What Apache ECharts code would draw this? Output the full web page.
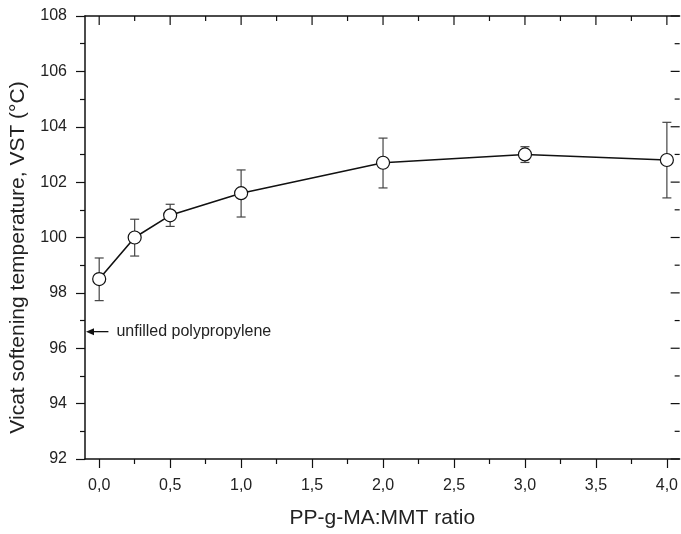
<!DOCTYPE html>
<html>
  <head>
    <title></title>
    <meta charset="UTF-8" />
    <script src="https://cdn.jsdelivr.net/npm/echarts@6/dist/echarts.min.js"></script>
    <style>
      html, body { margin: 0; padding: 0; background: #fff; }
    </style>
  </head>
  <body>
    <div id="main"></div>
    <script>
      const width = 681;
      const height = 534;
      const main = document.getElementById('main');
      main.style.width = `${width}px`;
      main.style.height = `${height}px`;

      // PP-g-MA:MMT ratio
      const ratio = [0, 0.25, 0.5, 1, 2, 3, 4];
      // Vicat softening temperature (°C)
      const vst = [98.5, 100.0, 100.8, 101.6, 102.7, 103.0, 102.8];
      const vstLow = [97.72, 99.33, 100.4, 100.74, 101.79, 102.71, 101.43];
      const vstHigh = [99.26, 100.66, 101.2, 102.44, 103.59, 103.28, 104.16];

      const xMajor = [0, 0.5, 1, 1.5, 2, 2.5, 3, 3.5, 4];
      const xMinor = [0.25, 0.75, 1.25, 1.75, 2.25, 2.75, 3.25, 3.75];
      const yMajor = [92, 94, 96, 98, 100, 102, 104, 106, 108];
      const yMinor = [93, 95, 97, 99, 101, 103, 105, 107];

      // reference level for the unfilled polymer
      const ppLevel = 96.6;
      const ppLabel = 'unfilled polypropylene';
      const arrowFrom = 0.065;

      const xMin = -0.1, xMax = 4.09, yMin = 92, yMax = 108;

      const font = "'Liberation Sans', Arial, sans-serif";
      const ink = '#111';

      const myChart = echarts.init(main);

      const xBase = {
        type: 'value',
        min: xMin,
        max: xMax,
        splitLine: { show: false },
        axisLine: { show: false, onZero: false },
        axisLabel: { show: false },
        axisTick: { show: false }
      };

      // ticks of the top and right frame: [x, y, kind] kind 0 top major, 1 top minor, 2 right major, 3 right minor
      const frameTicks = [
        ...xMajor.map(v => [v, yMax, 0]),
        ...xMinor.map(v => [v, yMax, 1]),
        ...yMajor.map(v => [xMax, v, 2]),
        ...yMinor.map(v => [xMax, v, 3])
      ];

      const option = {
        animation: false,
        textStyle: { fontFamily: font },
        grid: { left: 85, right: 0, top: 16, bottom: 74 },
        xAxis: [
          {
            ...xBase,
            position: 'bottom',
            name: 'PP-g-MA:MMT ratio',
            nameLocation: 'middle',
            nameGap: 49,
            nameTextStyle: { fontSize: 21, color: '#222', fontFamily: font },
            axisLine: { show: true, onZero: false, lineStyle: { color: ink, width: 1.5 } },
            axisTick: { show: true, length: 9, customValues: xMajor, lineStyle: { color: ink, width: 1.2 } },
            axisLabel: {
              show: true,
              customValues: xMajor,
              margin: 19,
              fontSize: 16,
              color: '#222',
              fontFamily: font,
              formatter: v => v.toFixed(1).replace('.', ',')
            }
          },
          {
            ...xBase,
            position: 'bottom',
            axisTick: { show: true, length: 5, customValues: xMinor, lineStyle: { color: ink, width: 1.2 } }
          },
          {
            ...xBase,
            position: 'top',
            axisLine: { show: true, onZero: false, lineStyle: { color: ink, width: 1.5 } }
          }
        ],
        yAxis: [
          {
            type: 'value',
            position: 'left',
            min: yMin,
            max: yMax,
            interval: 2,
            splitLine: { show: false },
            axisLine: { show: true, onZero: false, lineStyle: { color: ink, width: 1.5 } },
            axisTick: { length: 9, lineStyle: { color: ink, width: 1.2 } },
            minorTick: { show: true, splitNumber: 2, length: 5, lineStyle: { color: ink, width: 1.2 } },
            name: 'Vicat softening temperature, VST (°C)',
            nameLocation: 'middle',
            nameGap: 56,
            nameTextStyle: { fontSize: 21, color: '#222', fontFamily: font, padding: [0, 40, 0, 0] },
            axisLabel: { margin: 18, fontSize: 16, color: '#222', fontFamily: font }
          }
        ],
        series: [
          {
            type: 'custom',
            name: 'frame ticks',
            xAxisIndex: 0,
            yAxisIndex: 0,
            z: 1,
            silent: true,
            data: frameTicks,
            renderItem: (params, api) => {
              const p = api.coord([api.value(0), api.value(1)]);
              const kind = api.value(2);
              const len = kind % 2 === 0 ? 9 : 5;
              const shape = kind < 2
                ? { x1: p[0], y1: p[1], x2: p[0], y2: p[1] + len }
                : { x1: p[0], y1: p[1], x2: p[0] - len, y2: p[1] };
              return { type: 'line', shape, style: { stroke: ink, lineWidth: 1.2 } };
            }
          },
          {
            type: 'custom',
            name: 'error',
            xAxisIndex: 0,
            yAxisIndex: 0,
            z: 2,
            data: ratio.map((x, i) => [x, vstLow[i], vstHigh[i]]),
            renderItem: (params, api) => {
              const lo = api.coord([api.value(0), api.value(1)]);
              const hi = api.coord([api.value(0), api.value(2)]);
              const cap = 4.5;
              const style = { stroke: '#444', lineWidth: 1.2 };
              return {
                type: 'group',
                children: [
                  { type: 'line', shape: { x1: lo[0], y1: lo[1], x2: hi[0], y2: hi[1] }, style },
                  { type: 'line', shape: { x1: hi[0] - cap, y1: hi[1], x2: hi[0] + cap, y2: hi[1] }, style },
                  { type: 'line', shape: { x1: lo[0] - cap, y1: lo[1], x2: lo[0] + cap, y2: lo[1] }, style }
                ]
              };
            }
          },
          {
            type: 'line',
            name: 'VST',
            xAxisIndex: 0,
            yAxisIndex: 0,
            z: 3,
            data: ratio.map((x, i) => [x, vst[i]]),
            symbol: 'circle',
            symbolSize: 13,
            lineStyle: { color: ink, width: 1.6 },
            itemStyle: { color: '#fff', borderColor: ink, borderWidth: 1.2 }
          },
          {
            type: 'custom',
            name: 'reference',
            xAxisIndex: 0,
            yAxisIndex: 0,
            z: 4,
            data: [[arrowFrom, ppLevel]],
            renderItem: (params, api) => {
              const start = api.coord([api.value(0), api.value(1)]);
              const end = api.coord([xMin, api.value(1)]);
              const tip = end[0] + 1;
              return {
                type: 'group',
                children: [
                  { type: 'line', shape: { x1: start[0], y1: start[1], x2: tip + 6, y2: end[1] },
                    style: { stroke: ink, lineWidth: 1.3 } },
                  { type: 'polygon', shape: { points: [[tip, end[1]], [tip + 8, end[1] - 3.5], [tip + 8, end[1] + 3.5]] },
                    style: { fill: ink } },
                  { type: 'text', x: start[0] + 8, y: start[1],
                    style: { text: ppLabel, fontSize: 16, fontFamily: font, fill: '#222', verticalAlign: 'middle', align: 'left' } }
                ]
              };
            }
          }
        ]
      };
      myChart.setOption(option);
    </script>
  </body>
</html>
